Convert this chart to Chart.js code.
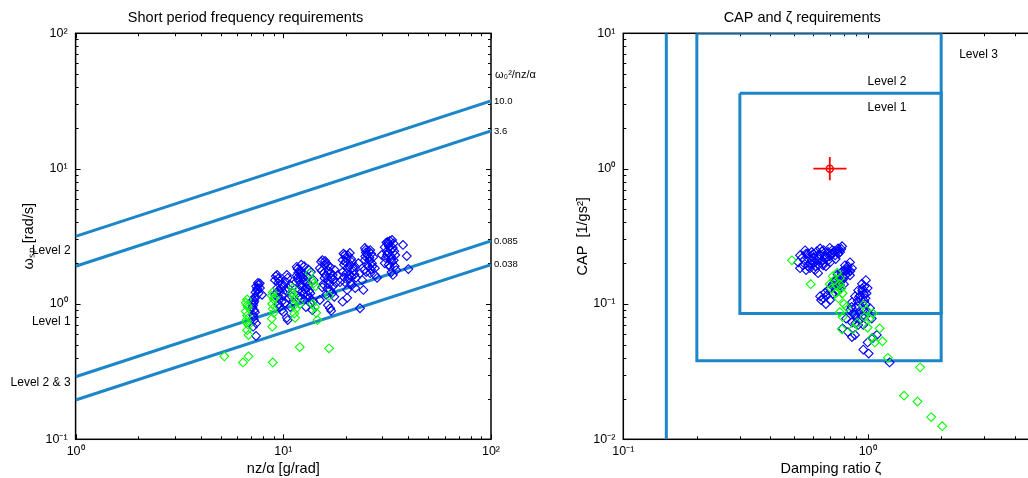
<!DOCTYPE html>
<html>
<head>
<meta charset="utf-8">
<title>Short period and CAP requirements</title>
<script src="https://cdn.jsdelivr.net/npm/chart.js@4.4.1/dist/chart.umd.min.js"></script>
<style>
  html, body { margin: 0; padding: 0; background: #fff; overflow: hidden; }
  body { width: 1028px; height: 478px; position: relative; }
  canvas { position: absolute; top: 0; }
  #spChart { left: 0; }
  #capChart { left: 566px; }
</style>
</head>
<body>
<canvas id="spChart" width="566" height="478"></canvas>
<canvas id="capChart" width="530" height="478"></canvas>
<script>
/* ---------- data: short period frequency plot ---------- */
const spXTicks = [1, 10, 100];
const spXTickLabels = ['10⁰', '10¹', '10²'];
const spYTicks = [0.1, 1, 10, 100];
const spYTickLabels = ['10⁻¹', '10⁰', '10¹', '10²'];

// CAP boundary lines, omega at n/alpha = 1 and 100
const boundaryX = [1, 100];
const boundaryOmega = [[3.16, 31.6], [1.90, 19.0], [0.29, 2.92], [0.195, 1.95]];
const boundaryNames = ['10.0', '3.6', '0.085', '0.038'];
const ratioHeader = 'ω₀²/nz/α';
const ratioHeaderY = 49;

const spLevelNames = ['Level 2', 'Level 1', 'Level 2 & 3'];
const spLevelY = [2.46, 0.736, 0.261];

const spBlue = [
  [7.55,1.43],[7.72,1.31],[7.90,1.17],[7.47,1.27],[7.31,1.13],[7.16,1.07],[7.16,0.98],[7.23,0.90],
  [7.16,0.83],[7.23,0.76],[7.16,0.68],[7.39,0.58],[7.6,1.38],[7.35,1.22],[7.2,1.02],[7.1,0.94],
  [7.3,0.87],[7.2,0.80],[7.4,0.72],[7.4,1.35],[7.6,1.20],[7.3,1.10],[7.5,1.30],[7.7,1.42],[7.25,1.05],
  [9.33,1.64],[9.12,1.50],[9.45,1.43],[9.33,1.31],[9.64,1.23],[9.12,1.17],[9.45,1.11],[9.83,1.04],
  [9.64,0.95],[10.0,0.87],[10.4,0.79],[10.5,0.76],[10.4,1.64],[10.5,1.56],[10.8,1.38],[10.2,1.27],
  [11.0,1.13],[10.8,0.95],[11.1,1.04],[9.83,0.90],[9.5,1.55],[9.9,1.40],[10.1,1.20],[9.7,1.30],
  [10.3,1.45],[10.6,1.10],[9.2,1.60],[9.6,1.48],[10.0,1.35],[9.3,1.22],[9.9,1.15],[10.2,1.02],
  [9.5,1.00],[10.6,1.30],
  [11.6,1.88],[12.0,1.78],[12.4,1.66],[11.7,1.56],[12.7,1.50],[12.0,1.38],[13.0,1.31],[12.3,1.23],
  [13.1,1.17],[12.6,1.07],[13.45,1.02],[12.85,0.95],[13.8,0.90],[13.6,1.72],[14.0,1.50],[11.5,1.45],
  [12.0,1.13],[13.3,1.11],[12.2,1.60],[12.8,1.42],[11.9,1.28],[13.3,1.25],[12.5,1.18],[13.0,1.60],
  [12.2,1.95],[11.8,1.70],[11.7,1.82],[12.1,1.70],[12.5,1.55],[12.9,1.45],[13.2,1.38],[12.4,1.35],
  [11.8,1.50],[12.7,1.28],[13.5,1.20],[12.2,1.10],[13.9,1.05],[12.6,1.90],[13.2,1.80],[11.6,1.62],
  [15.4,2.11],[16.1,2.00],[15.0,1.84],[16.8,1.88],[15.7,1.69],[17.3,1.64],[16.4,1.50],[17.9,1.43],
  [15.4,1.33],[16.8,1.27],[16.1,1.17],[17.6,1.13],[15.0,1.07],[16.4,0.98],[18.3,1.64],[18.75,1.45],
  [16.8,0.93],[17.0,0.89],[17.7,1.78],[15.8,1.95],[16.5,1.75],[17.0,1.55],[15.6,1.40],[16.3,1.30],
  [17.2,1.20],[15.2,2.05],[15.9,2.08],[16.4,1.92],[15.3,1.76],[16.0,1.62],[16.9,1.70],[17.5,1.52],
  [15.8,1.55],[16.6,1.40],[17.3,1.35],
  [19.8,2.30],[20.9,2.38],[19.3,2.11],[21.4,2.04],[20.3,1.84],[22.2,1.88],[19.3,1.72],[20.9,1.64],
  [22.4,1.56],[19.8,1.45],[21.4,1.38],[20.3,1.27],[22.2,1.31],[19.3,1.04],[20.3,1.11],[23.0,2.00],
  [23.4,1.69],[24.0,1.50],[24.3,1.27],[23.4,0.93],[20.0,2.20],[21.0,1.95],[21.8,1.75],[20.5,1.55],
  [21.0,1.45],[19.6,1.95],[19.5,2.35],[20.5,2.28],[21.2,2.15],[19.9,2.05],[20.7,1.90],[21.6,1.85],
  [20.1,1.68],[21.3,1.60],[19.6,1.58],[22.0,1.65],
  [24.7,2.59],[26.2,2.50],[25.4,2.30],[27.1,2.22],[24.7,2.11],[26.7,2.00],[25.7,1.88],[27.6,1.84],
  [24.5,1.78],[26.2,1.69],[29.8,2.30],[27.6,1.64],[28.3,1.56],[25.0,2.40],[26.0,2.20],[25.3,1.95],
  [26.8,1.90],[24.9,2.50],[25.8,2.45],[26.5,2.35],[24.8,2.25],[25.9,2.10],[26.4,1.80],[25.1,1.72],
  [31.9,2.87],[33.4,2.97],[30.8,2.63],[33.7,2.59],[31.9,2.38],[34.6,2.30],[31.1,2.19],[33.4,2.04],
  [32.6,1.88],[35.0,1.78],[33.7,1.64],[37.7,2.73],[39.3,2.26],[40.0,1.81],[30.8,2.00],[32.0,2.75],
  [32.8,2.50],[33.0,2.25],[31.5,2.45],[34.0,2.10],[31.4,2.85],[32.6,2.92],[33.9,2.80],[32.3,2.65],
  [34.2,2.45],[31.6,2.30],[33.0,2.15],[32.2,1.95],[34.4,1.90],[33.2,1.72]
];

const spGreen = [
  [6.7,1.08],[6.6,1.02],[6.75,0.95],[6.6,0.88],[6.7,0.82],[6.65,0.76],[6.8,0.70],[6.7,0.64],
  [6.8,0.59],[6.65,0.73],[6.7,0.98],
  [5.2,0.41],[6.4,0.37],[6.8,0.41],[8.9,0.37],[12.0,0.48],[16.6,0.47],
  [8.9,1.22],[8.8,1.15],[9.0,1.08],[8.85,1.00],[8.9,0.92],[9.0,0.86],[8.8,0.78],[8.85,0.68],[9.1,1.12],
  [11.1,1.31],[11.0,1.22],[11.2,1.15],[11.4,1.08],[11.3,0.98],[11.5,0.92],[11.3,0.85],[11.4,0.79],
  [13.4,1.69],[13.7,1.50],[14.0,1.42],[14.3,1.35],[13.8,1.00],[14.2,0.95],[14.4,0.86],[14.6,0.76],
  [16.6,1.15],[12.0,1.00]
];

/* ---------- data: CAP vs damping plot ---------- */
const capXTicks = [0.1, 1];
const capXTickLabels = ['10⁻¹', '10⁰'];
const capYTicks = [0.01, 0.1, 1, 10];
const capYTickLabels = ['10⁻²', '10⁻¹', '10⁰', '10¹'];

const level3Limit = [[0.15, 0.01], [0.15, 10]];
const level2Box = [[0.2, 10], [0.2, 0.038], [2, 0.038], [2, 10], [0.2, 10]];
const level1Box = [[0.3, 3.6], [2, 3.6], [2, 0.085], [0.3, 0.085], [0.3, 3.6]];

const capLevelNames = ['Level 3', 'Level 2', 'Level 1'];
const capLevelX = [2.37, 1.0, 1.0];
const capLevelY = [6.97, 4.4, 2.83];

const targetPoint = [[0.7, 1.0]];
const targetZetaBar = [[0.6, 1.0], [0.82, 1.0]];
const targetCapBar = [[0.7, 0.82], [0.7, 1.22]];

const capBlue = [
  [0.529,0.229],[0.555,0.249],[0.57,0.217],[0.59,0.242],[0.609,0.203],[0.627,0.225],[0.639,0.257],
  [0.657,0.193],[0.669,0.217],[0.688,0.242],[0.702,0.203],[0.715,0.249],[0.736,0.229],[0.757,0.257],
  [0.771,0.242],[0.786,0.267],[0.544,0.193],[0.56,0.178],[0.581,0.184],[0.609,0.178],[0.627,0.169],
  [0.592,0.197],[0.651,0.210],[0.529,0.184],[0.52,0.203],[0.675,0.190],[0.60,0.22],[0.64,0.23],
  [0.68,0.22],[0.72,0.235],[0.75,0.245],[0.62,0.21],[0.66,0.20],[0.70,0.225],[0.57,0.235],[0.55,0.21],
  [0.54,0.22],[0.56,0.235],[0.58,0.20],[0.60,0.235],[0.62,0.245],[0.63,0.215],[0.65,0.245],[0.67,0.23],
  [0.69,0.21],[0.71,0.235],[0.73,0.245],[0.74,0.215],[0.76,0.235],[0.78,0.255],[0.70,0.26],[0.66,0.25],
  [0.61,0.19],[0.59,0.21],[0.63,0.195],[0.57,0.19],
  [0.847,0.203],[0.808,0.193],[0.831,0.178],[0.786,0.174],[0.816,0.165],[0.753,0.165],[0.786,0.150],
  [0.736,0.146],[0.771,0.138],[0.719,0.136],[0.753,0.126],[0.688,0.126],[0.72,0.119],[0.669,0.121],
  [0.702,0.107],[0.645,0.107],[0.675,0.100],[0.80,0.140],[0.847,0.163],[0.753,0.124],[0.639,0.114],
  [0.863,0.184],[0.82,0.18],[0.79,0.16],[0.83,0.19],[0.81,0.175],[0.78,0.17],[0.76,0.155],[0.74,0.15],
  [0.72,0.14],[0.70,0.13],[0.68,0.115],[0.66,0.11],[0.85,0.175],[0.83,0.17],[0.80,0.155],[0.77,0.145],
  [0.984,0.150],[0.948,0.141],[1.0,0.131],[0.915,0.126],[0.966,0.118],[0.888,0.114],[0.94,0.107],
  [0.863,0.103],[0.915,0.096],[0.984,0.099],[1.023,0.093],[0.847,0.090],[0.888,0.084],[0.948,0.081],
  [1.0,0.087],[1.04,0.078],[0.816,0.078],[0.863,0.073],[0.915,0.070],[0.79,0.066],[0.83,0.062],
  [0.888,0.059],[0.863,0.057],[0.96,0.046],[1.01,0.043],[1.05,0.056],[1.0,0.052],[1.09,0.059],
  [1.23,0.037],[0.96,0.070],[0.89,0.072],[0.93,0.076],[0.95,0.125],[0.92,0.112],[0.97,0.105],
  [0.97,0.135],[0.95,0.13],[0.93,0.115],[0.99,0.12],[0.91,0.105],[0.89,0.095],[0.96,0.09],
  [0.87,0.085],[0.93,0.085],[0.98,0.11],[0.86,0.095],[0.90,0.08]
];

const capGreen = [
  [0.49,0.21],[0.585,0.14],[0.785,0.065],
  [0.72,0.16],[0.75,0.17],[0.73,0.15],[0.77,0.14],[0.71,0.13],[0.74,0.12],[0.78,0.13],[0.76,0.11],
  [0.79,0.12],[0.70,0.14],[0.75,0.135],[0.77,0.155],
  [0.77,0.087],[0.79,0.080],[0.905,0.072],[0.87,0.065],[0.82,0.095],[0.80,0.100],
  [0.96,0.098],[0.99,0.090],[1.02,0.078],[1.0,0.067],[1.12,0.066],[1.04,0.056],[1.07,0.052],
  [1.15,0.053],[0.97,0.080],[1.05,0.085],
  [1.21,0.040],[1.64,0.034],[1.41,0.021],[1.6,0.019],[1.82,0.0146],[2.02,0.0125]
];

/* ---------- styling ---------- */
const FONT = '"Liberation Sans", Arial, Helvetica, sans-serif';
const LIMIT_BLUE = '#1c86c8';
Chart.defaults.font.family = FONT;
Chart.defaults.color = '#000';

const toXY = pts => pts.map(([x, y]) => ({ x, y }));

function diamonds(pts, color) {
  return {
    data: toXY(pts),
    pointStyle: 'rectRot',
    pointRadius: 4.4,
    borderWidth: 1.1,
    borderColor: color,
    backgroundColor: 'rgba(0,0,0,0)',
    showLine: false
  };
}

function limitLine(pts, color, width) {
  return {
    data: toXY(pts),
    showLine: true,
    pointRadius: 0,
    borderColor: color,
    borderWidth: width,
    fill: false
  };
}

function logAxis(min, max, ticks, labels, title, titlePad, tickPad) {
  return {
    type: 'logarithmic',
    min: min,
    max: max,
    grid: { display: false, drawTicks: false },
    border: { display: false },
    afterBuildTicks: s => { s.ticks = ticks.map(v => ({ value: v })); },
    ticks: {
      autoSkip: false,
      maxRotation: 0,
      padding: tickPad,
      font: { size: 12.5 },
      callback: v => labels[ticks.indexOf(v)] || ''
    },
    title: {
      display: true,
      text: title,
      font: { size: 14.5 },
      padding: titlePad
    }
  };
}

// log tick marks at 1..9 x 10^k
function logTickValues(min, max) {
  const out = [];
  for (let e = Math.floor(Math.log10(min)); e <= Math.ceil(Math.log10(max)); e++) {
    for (let m = 1; m < 10; m++) {
      const v = m * Math.pow(10, e);
      if (v >= min * 0.999 && v <= max * 1.001) out.push({ v, major: m === 1 });
    }
  }
  return out;
}

// MATLAB-like boxed axes with inward tick marks
const axesFrame = {
  id: 'axesFrame',
  beforeDatasetsDraw(chart) {
    const { ctx, chartArea: a, scales: { x, y } } = chart;
    ctx.save();
    ctx.strokeStyle = '#000';
    ctx.lineWidth = 1;
    ctx.beginPath();
    logTickValues(x.min, x.max).forEach(t => {
      const px = Math.round(x.getPixelForValue(t.v)) + 0.5, len = t.major ? 5 : 3;
      ctx.moveTo(px, a.bottom); ctx.lineTo(px, a.bottom - len);
      ctx.moveTo(px, a.top); ctx.lineTo(px, a.top + len);
    });
    logTickValues(y.min, y.max).forEach(t => {
      const py = Math.round(y.getPixelForValue(t.v)) + 0.5, len = t.major ? 5 : 3;
      ctx.moveTo(a.left, py); ctx.lineTo(a.left + len, py);
      ctx.moveTo(a.right, py); ctx.lineTo(a.right - len, py);
    });
    ctx.stroke();
    ctx.lineWidth = 1.5;
    ctx.strokeRect(a.left, a.top, a.right - a.left, a.bottom - a.top);
    ctx.restore();
  }
};

function baseOptions(titleText) {
  return {
    responsive: false,
    animation: false,
    events: [],
    layout: { padding: 0 },
    plugins: {
      legend: { display: false },
      tooltip: { enabled: false },
      title: {
        display: true,
        text: titleText,
        color: '#000',
        font: { size: 14.5, weight: 'normal' },
        padding: { top: 9.3, bottom: 6.6 }
      }
    }
  };
}

/* ---------- short period chart ---------- */
const spAnnotations = {
  id: 'spAnnotations',
  afterDraw(chart) {
    const { ctx, chartArea: a, scales: { y } } = chart;
    ctx.save();
    ctx.fillStyle = '#000';
    ctx.textBaseline = 'middle';
    ctx.textAlign = 'left';
    ctx.font = '11px ' + FONT;
    ctx.fillText(ratioHeader, a.right + 4, y.getPixelForValue(ratioHeaderY));
    ctx.font = '9.5px ' + FONT;
    boundaryNames.forEach((name, i) => {
      const w = boundaryOmega[i];
      ctx.fillText(name, a.right + 3, y.getPixelForValue(w[w.length - 1]));
    });
    ctx.font = '12px ' + FONT;
    ctx.textAlign = 'right';
    spLevelNames.forEach((name, i) => {
      ctx.fillText(name, a.left - 5, y.getPixelForValue(spLevelY[i]));
    });
    ctx.restore();
  }
};

const spOptions = baseOptions('Short period frequency requirements');
spOptions.layout.padding = { left: 0, top: 0, bottom: 0, right: 75 };
spOptions.scales = {
  x: Object.assign(logAxis(1, 100, spXTicks, spXTickLabels, 'nz/α [g/rad]', { top: 0, bottom: 0 }, 5),
    { afterFit: s => { s.height = 38.7; } }),
  y: Object.assign(logAxis(0.1, 100, spYTicks, spYTickLabels, 'ωₛₚ [rad/s]', { top: 20, bottom: 0 }, 8),
    { afterFit: s => { s.width = 75.6; } })
};

new Chart(document.getElementById('spChart'), {
  type: 'scatter',
  data: {
    datasets: [
      diamonds(spGreen, '#00ff00'),
      diamonds(spBlue, '#0000ff'),
      ...boundaryOmega.map(w => limitLine(boundaryX.map((x, i) => [x, w[i]]), LIMIT_BLUE, 3))
    ]
  },
  options: spOptions,
  plugins: [axesFrame, spAnnotations]
});

/* ---------- CAP chart ---------- */
const capAnnotations = {
  id: 'capAnnotations',
  afterDraw(chart) {
    const { ctx, scales: { x, y } } = chart;
    ctx.save();
    ctx.fillStyle = '#000';
    ctx.textBaseline = 'middle';
    ctx.textAlign = 'left';
    ctx.font = '12px ' + FONT;
    capLevelNames.forEach((name, i) => {
      ctx.fillText(name, x.getPixelForValue(capLevelX[i]), y.getPixelForValue(capLevelY[i]));
    });
    ctx.restore();
  }
};

const capOptions = baseOptions('CAP and ζ requirements');
capOptions.layout.padding = { left: 0, top: 0, bottom: 0, right: 57.6 };
capOptions.scales = {
  x: Object.assign(logAxis(0.1, 5, capXTicks, capXTickLabels, 'Damping ratio ζ', { top: 0, bottom: 0 }, 5),
    { afterFit: s => { s.height = 38.7; } }),
  y: Object.assign(logAxis(0.01, 10, capYTicks, capYTickLabels, 'CAP  [1/gs²]', { top: 8.3, bottom: 0 }, 8),
    { afterFit: s => { s.width = 57.3; } })
};

new Chart(document.getElementById('capChart'), {
  type: 'scatter',
  data: {
    datasets: [
      diamonds(capGreen, '#00ff00'),
      diamonds(capBlue, '#0000ff'),
      {
        data: toXY(targetPoint),
        pointStyle: 'circle',
        pointRadius: 3.5,
        borderWidth: 1.5,
        borderColor: '#ff0000',
        backgroundColor: 'rgba(0,0,0,0)'
      },
      limitLine(targetZetaBar, '#ff0000', 1.8),
      limitLine(targetCapBar, '#ff0000', 1.8),
      limitLine(level1Box, LIMIT_BLUE, 3),
      limitLine(level2Box, LIMIT_BLUE, 3),
      limitLine(level3Limit, LIMIT_BLUE, 3)
    ]
  },
  options: capOptions,
  plugins: [axesFrame, capAnnotations]
});
</script>
</body>
</html>
